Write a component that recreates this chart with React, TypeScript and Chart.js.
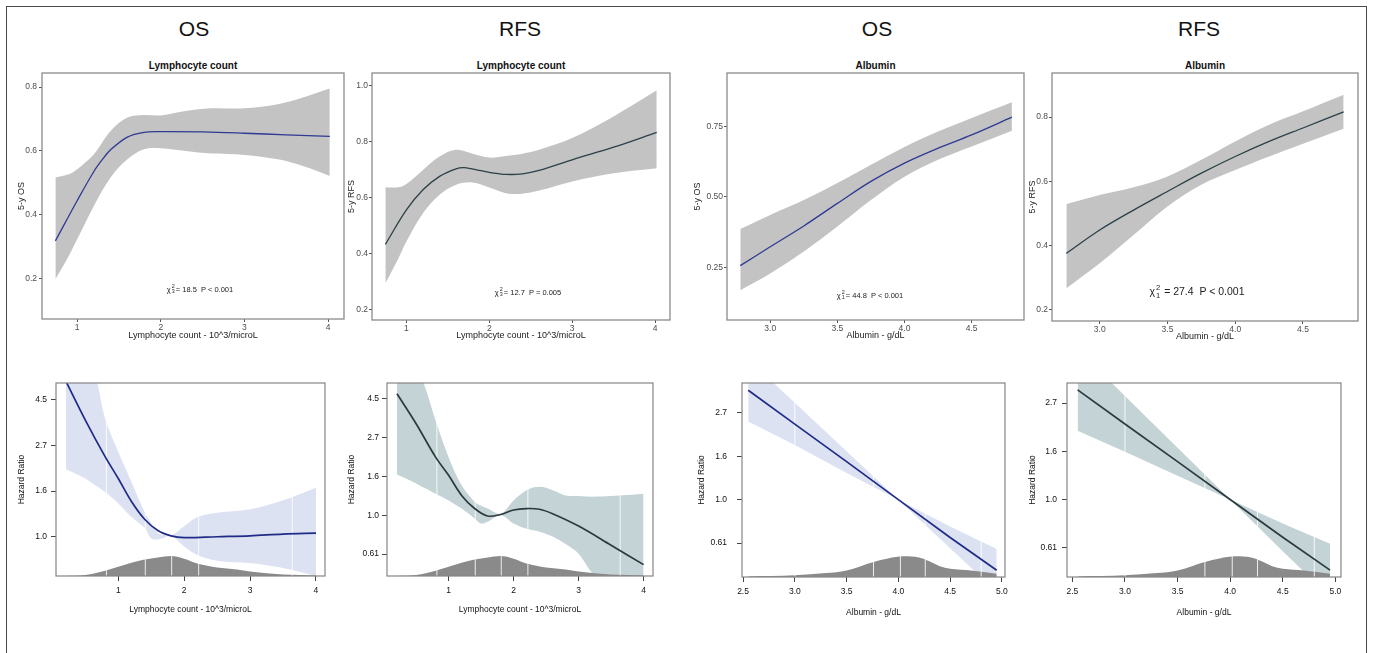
import React, { useEffect, useRef } from "react";
import { Chart, registerables } from "chart.js";

Chart.register(...registerables);

// ======================= DATA =======================
// --- Top row: predicted 5-year survival (probability) ---
// Lymphocyte count vs 5-y OS
const lymOsFitX = [0.74, 1.0, 1.2, 1.3, 1.4, 1.6, 1.8, 2.0, 2.5, 3.0, 3.5, 4.02];
const lymOsFit = [0.317, 0.443, 0.535, 0.572, 0.603, 0.643, 0.658, 0.66, 0.659, 0.655, 0.65, 0.645];
const lymOsBandX = [0.74, 0.9, 1.0, 1.2, 1.4, 1.6, 1.8, 2.0, 2.3, 2.6, 3.0, 3.4, 3.7, 4.02];
const lymOsUpper = [0.516, 0.526, 0.542, 0.589, 0.662, 0.704, 0.712, 0.711, 0.725, 0.733, 0.733, 0.746, 0.767, 0.795];
const lymOsLower = [0.197, 0.27, 0.322, 0.427, 0.516, 0.573, 0.605, 0.608, 0.599, 0.591, 0.587, 0.573, 0.552, 0.521];

// Lymphocyte count vs 5-y RFS
const lymRfsFitX = [0.746, 1.0, 1.2, 1.4, 1.6, 1.7, 1.9, 2.0, 2.2, 2.4, 2.6, 3.0, 3.5, 4.02];
const lymRfsFit = [0.432, 0.555, 0.627, 0.675, 0.702, 0.706, 0.695, 0.689, 0.682, 0.684, 0.696, 0.734, 0.779, 0.832];
const lymRfsBandX = [0.746, 0.9, 1.0, 1.2, 1.4, 1.6, 1.8, 2.0, 2.2, 2.4, 2.6, 3.0, 3.5, 4.02];
const lymRfsUpper = [0.636, 0.636, 0.648, 0.698, 0.746, 0.77, 0.756, 0.742, 0.748, 0.756, 0.77, 0.812, 0.889, 0.982];
const lymRfsLower = [0.293, 0.38, 0.442, 0.543, 0.609, 0.645, 0.653, 0.635, 0.615, 0.613, 0.624, 0.657, 0.686, 0.704];

// Albumin vs 5-y OS
const albOsX = [2.777, 3.0, 3.25, 3.5, 3.75, 4.0, 4.25, 4.5, 4.8];
const albOsFit = [0.256, 0.323, 0.397, 0.477, 0.555, 0.62, 0.673, 0.72, 0.783];
const albOsUpper = [0.386, 0.436, 0.489, 0.549, 0.614, 0.677, 0.732, 0.78, 0.836];
const albOsLower = [0.169, 0.228, 0.306, 0.395, 0.489, 0.572, 0.632, 0.679, 0.735];

// Albumin vs 5-y RFS
const albRfsX = [2.754, 3.0, 3.25, 3.5, 3.75, 4.0, 4.25, 4.5, 4.8];
const albRfsFit = [0.375, 0.448, 0.51, 0.568, 0.625, 0.677, 0.724, 0.766, 0.816];
const albRfsUpper = [0.529, 0.557, 0.581, 0.615, 0.667, 0.724, 0.776, 0.818, 0.87];
const albRfsLower = [0.266, 0.344, 0.432, 0.521, 0.589, 0.635, 0.677, 0.717, 0.764];

// --- Bottom row: hazard ratios (log-scaled axis) ---
// Lymphocyte count, OS
const lymOsHrX = [0.206, 0.5, 0.8, 1.0, 1.2, 1.4, 1.6, 1.8, 2.0, 2.5, 3.0, 3.5, 4.0];
const lymOsHr = [5.47, 3.58, 2.4, 1.89, 1.47, 1.21, 1.07, 1.01, 0.99, 1.0, 1.01, 1.03, 1.04];
const lymOsHrBandX = [0.206, 0.5, 0.68, 0.8, 1.0, 1.2, 1.4, 1.5, 1.6, 1.7, 1.8, 2.0, 2.2, 2.5, 3.0, 3.5, 4.0];
const lymOsHrUpper = [13.46, 8.17, 5.42, 3.63, 2.53, 1.82, 1.31, 1.16, 1.04, 1.02, 1.01, 1.12, 1.24, 1.3, 1.35, 1.49, 1.71];
const lymOsHrLower = [2.09, 1.89, 1.73, 1.63, 1.44, 1.24, 1.1, 0.98, 0.97, 0.99, 1.01, 0.9, 0.82, 0.77, 0.75, 0.71, 0.65];

// Lymphocyte count, RFS
const lymRfsHrX = [0.206, 0.5, 0.8, 1.0, 1.2, 1.4, 1.6, 1.8, 2.0, 2.2, 2.4, 2.6, 3.0, 3.5, 4.0];
const lymRfsHr = [4.76, 3.24, 2.11, 1.67, 1.29, 1.09, 0.99, 1.01, 1.07, 1.09, 1.08, 1.02, 0.87, 0.68, 0.53];
const lymRfsHrBandX = [0.206, 0.4, 0.615, 0.8, 1.0, 1.2, 1.4, 1.5, 1.6, 1.8, 2.0, 2.2, 2.4, 2.6, 2.8, 3.0, 3.2, 3.5, 4.0];
const lymRfsHrUpper = [11.0, 8.17, 5.47, 3.38, 2.11, 1.47, 1.19, 1.13, 1.09, 1.02, 1.21, 1.38, 1.44, 1.38, 1.29, 1.28, 1.27, 1.28, 1.32];
const lymRfsHrLower = [1.69, 1.57, 1.43, 1.32, 1.21, 1.09, 0.96, 0.9, 0.92, 1.0, 0.9, 0.84, 0.81, 0.76, 0.69, 0.61, 0.48, 0.37, 0.3];

// Albumin, OS
const albHrX = [2.55, 3.0, 3.5, 4.0, 4.5, 4.95];
const albOsHr = [3.53, 2.39, 1.55, 1.0, 0.647, 0.443];
const albOsHrUpper = [5.05, 3.06, 1.75, 1.0, 0.733, 0.566];
const albOsHrLower = [2.46, 1.88, 1.36, 1.0, 0.571, 0.346];

// Albumin, RFS
const albRfsHr = [3.12, 2.19, 1.48, 1.0, 0.675, 0.48];
const albRfsHrUpper = [4.77, 2.93, 1.71, 1.0, 0.78, 0.632];
const albRfsHrLower = [2.04, 1.64, 1.28, 1.0, 0.584, 0.364];

// Distribution of the covariate (relative density) and quantile marks
const lymDensX = [0.2, 0.5, 0.8, 1.0, 1.2, 1.4, 1.6, 1.8, 2.0, 2.2, 2.5, 2.8, 3.0, 3.5, 4.0];
const lymDens = [0.0, 0.05, 0.27, 0.47, 0.67, 0.83, 0.93, 1.0, 0.87, 0.63, 0.43, 0.33, 0.22, 0.08, 0.03];
const lymQuantiles = [0.82, 1.41, 1.81, 2.22, 3.64];
const albDensX = [2.55, 3.0, 3.3, 3.5, 3.76, 3.9, 4.05, 4.2, 4.3, 4.4, 4.5, 4.7, 4.95];
const albDens = [0.03, 0.08, 0.19, 0.32, 0.73, 0.9, 1.0, 0.94, 0.76, 0.52, 0.4, 0.32, 0.16];
const albQuantiles = [3.0, 3.76, 4.02, 4.26, 4.8];

// Tick values / labels
const lymXTicks = [1, 2, 3, 4];
const lymXLabels = ["1", "2", "3", "4"];
const albTopXTicks = [3.0, 3.5, 4.0, 4.5];
const albTopXLabels = ["3.0", "3.5", "4.0", "4.5"];
const albBotXTicks = [2.5, 3.0, 3.5, 4.0, 4.5, 5.0];
const albBotXLabels = ["2.5", "3.0", "3.5", "4.0", "4.5", "5.0"];
const prob8Ticks = [0.2, 0.4, 0.6, 0.8];
const prob8Labels = ["0.2", "0.4", "0.6", "0.8"];
const prob10Ticks = [0.2, 0.4, 0.6, 0.8, 1.0];
const prob10Labels = ["0.2", "0.4", "0.6", "0.8", "1.0"];
const prob75Ticks = [0.25, 0.5, 0.75];
const prob75Labels = ["0.25", "0.50", "0.75"];
const hrTickValues = [Math.exp(-0.5), 1, Math.exp(0.5), Math.exp(1), Math.exp(1.5)];
const hrTickLabels = ["0.61", "1.0", "1.6", "2.7", "4.5"];

// Texts
const headings = ["OS", "RFS", "OS", "RFS"];
const panelTitles = ["Lymphocyte count", "Lymphocyte count", "Albumin", "Albumin"];
const chiDf = ["3", "3", "1", "1"];
const chiVal = ["18.5", "12.7", "44.8", "27.4"];
const pText = ["P < 0.001", "P = 0.005", "P < 0.001", "P < 0.001"];

// ======================= STYLE / LAYOUT =======================
const FONT_NARROW = '"Liberation Sans Narrow", "Arial Narrow", "Liberation Sans", Arial, sans-serif';
const FONT_SANS = '"Liberation Sans", Arial, sans-serif';
const YW = 45;
const XH = 45;
const PT = 18;
const PR = 12;

const TOP_BAND = "#c3c3c3";
const NAVY_TOP = "#2e3a93";
const SLATE_TOP = "#2b4048";
const NAVY_BOT = "#1f2b87";
const SLATE_BOT = "#2b3a3f";
const LAV_BAND = "#dce2f2";
const TEAL_BAND = "#c4d3d6";
const DENS = "#8a8a8a";

type Box = [number, number, number, number];

const pts = (xs: number[], ys: (number | null)[]) => xs.map((x, i) => ({ x, y: ys[i] }));

const framePlugin = (color: string, width: number) => ({
  id: "frameBox",
  afterDatasetsDraw(chart: any) {
    const { ctx, chartArea: a } = chart;
    ctx.save();
    ctx.strokeStyle = color;
    ctx.lineWidth = width;
    ctx.strokeRect(a.left, a.top, a.right - a.left, a.bottom - a.top);
    ctx.restore();
  },
});

function topConfig(p: any) {
  const [L, T, R, B] = p.box as Box;
  const tickFont = { family: FONT_NARROW, size: 8.5, lineHeight: 1 };
  const titleFont = { family: FONT_NARROW, size: 9, lineHeight: 1.2 };
  const lh = 9 * 1.2;
  const canvasLeft = L - YW;
  const band = { borderColor: "rgba(0,0,0,0)", borderWidth: 0, pointRadius: 0, tension: 0.35 };
  return {
    type: "line",
    data: {
      datasets: [
        { data: pts(p.fitX, p.fit), borderColor: p.lineColor, borderWidth: 1.3, pointRadius: 0, fill: false, tension: 0.35, order: 0 },
        { ...band, data: pts(p.bandX, p.lower), fill: false, order: 2 },
        { ...band, data: pts(p.bandX, p.upper), fill: "-1", backgroundColor: TOP_BAND, order: 1 },
      ],
    },
    options: {
      responsive: false,
      maintainAspectRatio: false,
      animation: false,
      events: [],
      layout: { padding: { left: 0, top: PT, right: PR, bottom: 0 } },
      plugins: { legend: { display: false }, tooltip: { enabled: false } },
      scales: {
        x: {
          type: "linear",
          min: p.xMin,
          max: p.xMax,
          bounds: "data",
          afterBuildTicks: (s: any) => { s.ticks = p.xTicks.map((v: number) => ({ value: v })); },
          afterFit: (s: any) => { s.height = XH; },
          ticks: { autoSkip: false, maxRotation: 0, minRotation: 0, padding: 1, font: tickFont, color: "#4d4d4d", callback: (_v: any, i: number) => p.xLabels[i] },
          grid: { display: true, drawOnChartArea: false, drawTicks: true, tickLength: 3, color: "#555" },
          border: { display: false },
          title: { display: true, text: p.xTitle, font: titleFont, color: "#222", padding: { top: 0, bottom: B + XH - lh / 2 - p.xTitleY } },
        },
        y: {
          type: "linear",
          min: p.yMin,
          max: p.yMax,
          bounds: "data",
          afterBuildTicks: (s: any) => { s.ticks = p.yTicks.map((v: number) => ({ value: v })); },
          afterFit: (s: any) => { s.width = YW; },
          ticks: { autoSkip: false, padding: p.yTickPad, font: tickFont, color: "#4d4d4d", callback: (_v: any, i: number) => p.yLabels[i] },
          grid: { display: true, drawOnChartArea: false, drawTicks: true, tickLength: 3, color: "#555" },
          border: { display: false },
          title: { display: true, text: p.yTitle, font: titleFont, color: "#222", padding: { top: p.yTitleX - canvasLeft - lh / 2, bottom: 0 } },
        },
      },
    },
    plugins: [framePlugin("#8a8a8a", 1.3)],
  };
}

function bottomConfig(p: any) {
  const [L, T, R, B] = p.box as Box;
  const tickFont = { family: FONT_SANS, size: 8.5, lineHeight: 1 };
  const titleFont = { family: FONT_SANS, size: 8.5, lineHeight: 1.2 };
  const lh = 8.5 * 1.2;
  const canvasLeft = L - YW;
  const hrPairs = hrTickValues
    .map((v, i) => ({ v, l: hrTickLabels[i] }))
    .filter((t) => t.v >= p.yMin && t.v <= p.yMax);
  const band = { borderColor: "rgba(0,0,0,0)", borderWidth: 0, pointRadius: 0, tension: p.tension };
  const qX: number[] = [];
  const qY: (number | null)[] = [];
  p.quantiles.forEach((q: number) => {
    qX.push(q, q, q);
    qY.push(0, p.densMax, null);
  });
  return {
    type: "line",
    data: {
      datasets: [
        { data: pts(p.fitX, p.fit), borderColor: p.lineColor, borderWidth: 1.7, pointRadius: 0, fill: false, tension: p.tension, order: 0 },
        { data: pts(qX, qY), yAxisID: "yd", borderColor: "rgba(255,255,255,0.85)", borderWidth: 1, pointRadius: 0, fill: false, tension: 0, spanGaps: false, order: 1 },
        { data: pts(p.densX, p.dens), yAxisID: "yd", borderColor: "rgba(0,0,0,0)", borderWidth: 0, pointRadius: 0, fill: "origin", backgroundColor: DENS, cubicInterpolationMode: "monotone", order: 2 },
        { ...band, data: pts(p.bandX, p.lower), fill: false, order: 4 },
        { ...band, data: pts(p.bandX, p.upper), fill: "-1", backgroundColor: p.bandColor, order: 3 },
      ],
    },
    options: {
      responsive: false,
      maintainAspectRatio: false,
      animation: false,
      events: [],
      layout: { padding: { left: 0, top: PT, right: PR, bottom: 0 } },
      plugins: { legend: { display: false }, tooltip: { enabled: false } },
      scales: {
        x: {
          type: "linear",
          min: p.xMin,
          max: p.xMax,
          bounds: "data",
          afterBuildTicks: (s: any) => { s.ticks = p.xTicks.map((v: number) => ({ value: v })); },
          afterFit: (s: any) => { s.height = XH; },
          ticks: { autoSkip: false, maxRotation: 0, minRotation: 0, padding: 5, font: tickFont, color: "#111", callback: (_v: any, i: number) => p.xLabels[i] },
          grid: { display: true, drawOnChartArea: false, drawTicks: true, tickLength: 5, color: "#444" },
          border: { display: false },
          title: { display: true, text: p.xTitle, font: titleFont, color: "#111", padding: { top: 0, bottom: B + XH - lh / 2 - p.xTitleY } },
        },
        y: {
          type: "logarithmic",
          min: p.yMin,
          max: p.yMax,
          bounds: "data",
          afterBuildTicks: (s: any) => { s.ticks = hrPairs.map((t) => ({ value: t.v })); },
          afterFit: (s: any) => { s.width = YW; },
          ticks: { autoSkip: false, padding: p.yTickPad, font: tickFont, color: "#111", callback: (_v: any, i: number) => hrPairs[i] ? hrPairs[i].l : "" },
          grid: { display: true, drawOnChartArea: false, drawTicks: true, tickLength: 5, color: "#444" },
          border: { display: false },
          title: { display: true, text: "Hazard Ratio", font: titleFont, color: "#111", padding: { top: Math.max(0, p.yTitleX - canvasLeft - lh / 2), bottom: 0 } },
        },
        yd: { type: "linear", display: false, min: 0, max: p.densMax },
      },
    },
    plugins: [framePlugin("#858585", 1.2)],
  };
}

const topPanels = [
  { box: [42, 73, 344, 319], xMin: 0.58, xMax: 4.19, yMin: 0.072, yMax: 0.844, xTicks: lymXTicks, xLabels: lymXLabels, yTicks: prob8Ticks, yLabels: prob8Labels,
    fitX: lymOsFitX, fit: lymOsFit, bandX: lymOsBandX, upper: lymOsUpper, lower: lymOsLower, lineColor: NAVY_TOP,
    xTitle: "Lymphocyte count - 10^3/microL", yTitle: "5-y OS", yTitleX: 22, xTitleY: 336, yTickPad: 2 },
  { box: [372, 73, 670, 320], xMin: 0.585, xMax: 4.18, yMin: 0.162, yMax: 1.044, xTicks: lymXTicks, xLabels: lymXLabels, yTicks: prob10Ticks, yLabels: prob10Labels,
    fitX: lymRfsFitX, fit: lymRfsFit, bandX: lymRfsBandX, upper: lymRfsUpper, lower: lymRfsLower, lineColor: SLATE_TOP,
    xTitle: "Lymphocyte count - 10^3/microL", yTitle: "5-y RFS", yTitleX: 352, xTitleY: 336, yTickPad: 1 },
  { box: [727, 73, 1024, 320], xMin: 2.678, xMax: 4.89, yMin: 0.063, yMax: 0.94, xTicks: albTopXTicks, xLabels: albTopXLabels, yTicks: prob75Ticks, yLabels: prob75Labels,
    fitX: albOsX, fit: albOsFit, bandX: albOsX, upper: albOsUpper, lower: albOsLower, lineColor: NAVY_TOP,
    xTitle: "Albumin - g/dL", yTitle: "5-y OS", yTitleX: 698, xTitleY: 336, yTickPad: 1 },
  { box: [1052, 73, 1358, 321], xMin: 2.648, xMax: 4.906, yMin: 0.164, yMax: 0.9375, xTicks: albTopXTicks, xLabels: albTopXLabels, yTicks: prob8Ticks, yLabels: prob8Labels,
    fitX: albRfsX, fit: albRfsFit, bandX: albRfsX, upper: albRfsUpper, lower: albRfsLower, lineColor: SLATE_TOP,
    xTitle: "Albumin - g/dL", yTitle: "5-y RFS", yTitleX: 1033, xTitleY: 337, yTickPad: 1 },
];

const bottomPanels = [
  { box: [56, 383, 325, 576], xMin: 0.055, xMax: 4.137, yMin: 0.651, yMax: 5.37, xTicks: lymXTicks, xLabels: lymXLabels,
    fitX: lymOsHrX, fit: lymOsHr, bandX: lymOsHrBandX, upper: lymOsHrUpper, lower: lymOsHrLower, lineColor: NAVY_BOT, bandColor: LAV_BAND, tension: 0.35,
    densX: lymDensX, dens: lymDens, densMax: 9.7, quantiles: lymQuantiles,
    xTitle: "Lymphocyte count - 10^3/microL", yTitleX: 22, xTitleY: 610, yTickPad: 4 },
  { box: [387, 383, 653, 576], xMin: 0.052, xMax: 4.145, yMin: 0.458, yMax: 5.47, xTicks: lymXTicks, xLabels: lymXLabels,
    fitX: lymRfsHrX, fit: lymRfsHr, bandX: lymRfsHrBandX, upper: lymRfsHrUpper, lower: lymRfsHrLower, lineColor: SLATE_BOT, bandColor: TEAL_BAND, tension: 0.35,
    densX: lymDensX, dens: lymDens, densMax: 9.7, quantiles: lymQuantiles,
    xTitle: "Lymphocyte count - 10^3/microL", yTitleX: 352, xTitleY: 610, yTickPad: 3 },
  { box: [742, 383, 1005, 577], xMin: 2.49, xMax: 5.03, yMin: 0.41, yMax: 3.84, xTicks: albBotXTicks, xLabels: albBotXLabels,
    fitX: albHrX, fit: albOsHr, bandX: albHrX, upper: albOsHrUpper, lower: albOsHrLower, lineColor: NAVY_BOT, bandColor: LAV_BAND, tension: 0,
    densX: albDensX, dens: albDens, densMax: 9.4, quantiles: albQuantiles,
    xTitle: "Albumin - g/dL", yTitleX: 702, xTitleY: 613, yTickPad: 10 },
  { box: [1067, 383, 1341, 577], xMin: 2.449, xMax: 5.054, yMin: 0.447, yMax: 3.35, xTicks: albBotXTicks, xLabels: albBotXLabels,
    fitX: albHrX, fit: albRfsHr, bandX: albHrX, upper: albRfsHrUpper, lower: albRfsHrLower, lineColor: SLATE_BOT, bandColor: TEAL_BAND, tension: 0,
    densX: albDensX, dens: albDens, densMax: 9.4, quantiles: albQuantiles,
    xTitle: "Albumin - g/dL", yTitleX: 1033, xTitleY: 613, yTickPad: 5 },
];

const headingCenters = [194, 520, 877, 1199];
const annotPos = [
  { x: 200, y: 289, size: 7.5, family: FONT_NARROW },
  { x: 528, y: 292, size: 7.5, family: FONT_NARROW },
  { x: 870, y: 295, size: 7.5, family: FONT_NARROW },
  { x: 1197, y: 292, size: 10.5, family: FONT_SANS },
];

function ChartCanvas({ box, config }: { box: Box; config: any }) {
  const ref = useRef<HTMLCanvasElement>(null);
  const [L, T, R, B] = box;
  const left = L - YW;
  const top = T - PT;
  const w = R - L + YW + PR;
  const h = B - T + PT + XH;
  useEffect(() => {
    if (!ref.current) return;
    const chart = new Chart(ref.current, config);
    return () => chart.destroy();
  }, []);
  return (
    <canvas
      ref={ref}
      width={w}
      height={h}
      style={{ position: "absolute", left, top, width: w, height: h }}
    />
  );
}

function Centered({ x, y, style, children }: any) {
  return (
    <div
      style={{
        position: "absolute",
        left: x,
        top: y,
        transform: "translate(-50%, -50%)",
        whiteSpace: "pre",
        lineHeight: 1,
        ...style,
      }}
    >
      {children}
    </div>
  );
}

export default function App() {
  return (
    <div
      style={{
        position: "absolute",
        left: 0,
        top: 0,
        width: 1373,
        height: 653,
        overflow: "hidden",
        background: "#fff",
      }}
    >
      <div
        style={{
          position: "absolute",
          left: 6,
          top: 6,
          width: 1361,
          height: 720,
          border: "1.5px solid #4a4a4a",
          boxSizing: "border-box",
        }}
      />
      {headings.map((t, i) => (
        <Centered key={"h" + i} x={headingCenters[i]} y={28} style={{ fontFamily: FONT_NARROW, fontSize: 21, color: "#111" }}>
          {t}
        </Centered>
      ))}
      {topPanels.map((p, i) => (
        <Centered
          key={"t" + i}
          x={(p.box[0] + p.box[2]) / 2}
          y={66}
          style={{ fontFamily: FONT_SANS, fontSize: 10, fontWeight: "bold", color: "#111" }}
        >
          {panelTitles[i]}
        </Centered>
      ))}
      {topPanels.map((p, i) => (
        <ChartCanvas key={"c" + i} box={p.box as Box} config={topConfig(p)} />
      ))}
      {bottomPanels.map((p, i) => (
        <ChartCanvas key={"b" + i} box={p.box as Box} config={bottomConfig(p)} />
      ))}
      {annotPos.map((a, i) => (
        <Centered key={"a" + i} x={a.x} y={a.y} style={{ fontFamily: a.family, fontSize: a.size, color: "#222" }}>
          <span style={{ display: "inline-flex", alignItems: "center" }}>
            <span>χ</span>
            <span style={{ display: "inline-flex", flexDirection: "column", fontSize: "0.72em", lineHeight: 1, margin: "0 1px" }}>
              <span>2</span>
              <span>{chiDf[i]}</span>
            </span>
            <span>{(i === 3 ? " = " : "= ") + chiVal[i] + "  " + pText[i]}</span>
          </span>
        </Centered>
      ))}
    </div>
  );
}
